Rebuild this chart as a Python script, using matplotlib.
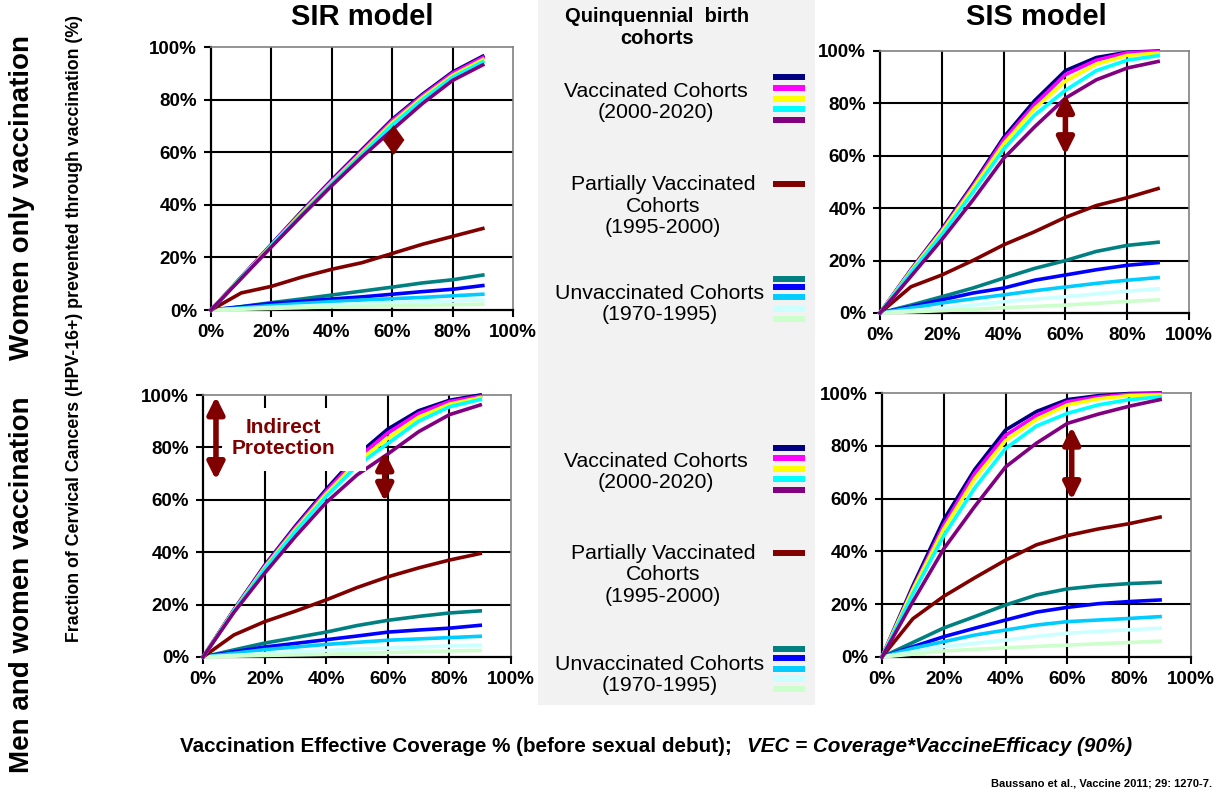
import matplotlib
matplotlib.use('Agg')
import matplotlib.pyplot as plt
from matplotlib import font_manager
from matplotlib.lines import Line2D
from matplotlib.patches import Rectangle

coverage = [0, 10, 20, 30, 40, 50, 60, 70, 80, 90]
ticks = [0, 20, 40, 60, 80, 100]
tick_labels = ['0%', '20%', '40%', '60%', '80%', '100%']

vacc_colors = ['#000080', '#ff00ff', '#ffff00', '#00ffff', '#800080']
partial_color = '#800000'
unvacc_colors = ['#008080', '#0000ff', '#00ccff', '#ccffff', '#ccffcc']

# SIR model, women only vaccination
sir_w_vacc = [
    [0, 12.5, 25.0, 37.5, 49.5, 61.0, 72.5, 82.0, 90.5, 96.5],
    [0, 12.4, 24.8, 37.2, 49.1, 60.5, 72.0, 81.5, 90.0, 96.0],
    [0, 12.3, 24.6, 36.8, 48.6, 59.9, 71.2, 80.8, 89.2, 95.2],
    [0, 12.2, 24.4, 36.4, 48.1, 59.3, 70.4, 80.0, 88.5, 94.4],
    [0, 12.0, 24.0, 35.8, 47.3, 58.2, 68.5, 78.5, 87.3, 93.2]]
sir_w_partial = [0, 6.5, 9.0, 12.5, 15.5, 18.0, 21.5, 25.0, 28.0, 31.0]
sir_w_unvacc = [
    [0, 1.3, 2.8, 4.2, 5.7, 7.2, 8.7, 10.3, 11.5, 13.3],
    [0, 1.2, 2.5, 3.3, 4.2, 5.0, 6.0, 7.0, 7.9, 9.3],
    [0, 0.8, 1.7, 2.5, 3.2, 3.8, 4.3, 4.8, 5.4, 6.0],
    [0, 0.5, 1.0, 1.5, 2.0, 2.4, 2.8, 3.1, 3.5, 3.8],
    [0, 0.3, 0.6, 0.9, 1.2, 1.4, 1.6, 1.8, 2.0, 2.2]]

# SIS model, women only vaccination
sis_w_vacc = [
    [0, 16.5, 32.0, 49.0, 67.0, 81.0, 92.5, 97.5, 99.5, 100],
    [0, 16.3, 31.5, 48.3, 66.0, 79.5, 91.0, 96.5, 99.3, 99.8],
    [0, 16.0, 31.0, 47.5, 64.5, 78.0, 88.5, 95.0, 98.3, 99.2],
    [0, 15.5, 30.0, 46.0, 62.5, 75.5, 85.0, 92.5, 96.5, 98.2],
    [0, 14.0, 28.0, 43.0, 59.0, 71.0, 82.0, 89.0, 93.5, 96.0]]
sis_w_partial = [0, 10.0, 14.5, 20.0, 26.0, 31.0, 36.5, 41.0, 44.0, 47.5]
sis_w_unvacc = [
    [0, 3.0, 6.2, 9.5, 13.3, 17.0, 20.0, 23.5, 25.8, 27.0],
    [0, 2.4, 5.0, 7.6, 9.5, 12.5, 14.5, 16.5, 18.2, 19.2],
    [0, 1.9, 3.8, 5.4, 6.9, 8.5, 9.9, 11.3, 12.5, 13.5],
    [0, 0.9, 1.8, 3.0, 4.3, 5.3, 6.2, 7.3, 8.3, 9.2],
    [0, 0.4, 0.9, 1.4, 2.0, 2.5, 3.0, 3.7, 4.4, 5.0]]

# SIR model, men and women vaccination
sir_mw_vacc = [
    [0, 18.0, 35.0, 50.0, 64.0, 77.0, 87.0, 94.0, 98.0, 100],
    [0, 17.8, 34.6, 49.4, 63.2, 75.8, 85.5, 93.0, 97.5, 99.5],
    [0, 17.6, 34.1, 48.7, 62.3, 74.4, 83.5, 91.5, 96.5, 99.0],
    [0, 17.4, 33.6, 48.0, 61.3, 73.0, 81.5, 90.0, 95.5, 98.3],
    [0, 17.0, 32.0, 46.0, 59.0, 69.5, 77.5, 86.0, 92.5, 96.2]]
sir_mw_partial = [0, 8.4, 13.5, 17.5, 21.8, 26.5, 30.6, 34.0, 37.0, 39.5]
sir_mw_unvacc = [
    [0, 2.7, 5.3, 7.4, 9.5, 12.0, 14.0, 15.5, 16.8, 17.6],
    [0, 2.0, 3.8, 5.2, 6.6, 8.0, 9.5, 10.3, 11.0, 12.1],
    [0, 1.4, 2.8, 3.8, 4.8, 5.6, 6.4, 6.9, 7.4, 7.9],
    [0, 0.6, 1.3, 1.9, 2.5, 3.0, 3.4, 3.8, 4.2, 4.5],
    [0, 0.3, 0.6, 0.8, 1.0, 1.4, 1.7, 2.0, 2.3, 2.5]]

# SIS model, men and women vaccination
sis_mw_vacc = [
    [0, 27.0, 52.0, 71.0, 86.0, 93.0, 97.5, 99.0, 99.8, 100],
    [0, 26.0, 50.0, 69.5, 84.0, 91.5, 96.7, 98.5, 99.5, 99.7],
    [0, 25.5, 48.5, 67.5, 82.0, 90.0, 95.5, 97.8, 99.0, 99.3],
    [0, 24.0, 46.0, 64.0, 79.0, 87.5, 92.3, 95.5, 97.5, 98.5],
    [0, 21.0, 41.0, 57.0, 72.0, 81.0, 88.5, 92.0, 95.0, 97.5]]
sis_mw_partial = [0, 14.5, 23.0, 30.0, 36.7, 42.5, 46.0, 48.5, 50.5, 53.0]
sis_mw_unvacc = [
    [0, 5.5, 11.0, 15.3, 19.7, 23.5, 25.8, 27.0, 27.8, 28.3],
    [0, 3.9, 7.7, 10.9, 14.0, 17.0, 18.8, 20.2, 21.0, 21.6],
    [0, 3.3, 5.8, 8.3, 10.2, 12.1, 13.4, 14.0, 14.6, 15.3],
    [0, 1.9, 3.9, 5.2, 6.4, 7.8, 9.0, 9.7, 10.3, 10.9],
    [0, 1.1, 2.3, 2.9, 3.5, 4.0, 4.5, 5.0, 5.5, 6.0]]

DARK_RED = '#800000'
W, H = 1232, 798

installed = {f.name for f in font_manager.fontManager.ttflist}
plt.rcParams['font.family'] = ['Liberation Sans', 'DejaVu Sans']
if 'Liberation Sans Narrow' in installed:
    narrow = dict(family=['Liberation Sans Narrow', 'Liberation Sans'], size=15)
else:
    narrow = dict(family=['Liberation Sans', 'DejaVu Sans'], size=12.8)


def px(x, y):
    # pixel position (from top-left) to figure fraction
    return x / W, 1 - y / H


def double_arrow(ax, x, y0, y1, head=0.5, width=0.25, lw=4):
    style = '<|-|>,head_length=%s,head_width=%s' % (head, width)
    ax.annotate('', xy=(x, y0), xytext=(x, y1), zorder=6,
                arrowprops=dict(arrowstyle=style, color=DARK_RED, lw=lw,
                                mutation_scale=20, shrinkA=0, shrinkB=0))


def draw_panel(rect, vacc, partial, unvacc):
    ax = fig.add_axes(rect)
    for vals, c in zip(unvacc, unvacc_colors):
        ax.plot(coverage, vals, color=c, lw=2.6, clip_on=False, zorder=3)
    ax.plot(coverage, partial, color=partial_color, lw=2.6, clip_on=False, zorder=3)
    for vals, c in zip(vacc, vacc_colors):
        ax.plot(coverage, vals, color=c, lw=2.6, clip_on=False, zorder=3)

    ax.set_xlim(0, 100)
    ax.set_ylim(0, 100)
    ax.set_xticks(ticks)
    ax.set_yticks(ticks)
    ax.set_xticklabels(tick_labels, fontweight='bold', fontsize=13.5)
    ax.set_yticklabels(tick_labels, fontweight='bold', fontsize=13.5)
    ax.tick_params(direction='out', length=5, width=1.5, pad=5)

    ax.grid(color='black', lw=1.5)
    ax.set_axisbelow(True)
    for gl in ax.get_xgridlines()[::len(ticks) - 1] + ax.get_ygridlines()[::len(ticks) - 1]:
        gl.set_visible(False)
    for side in ['left', 'bottom']:
        ax.spines[side].set_linewidth(1.6)
    for side in ['top', 'right']:
        ax.spines[side].set_color('#808080')
        ax.spines[side].set_linewidth(1.2)
    return ax


fig = plt.figure(figsize=(W / 100, H / 100), dpi=100)

# shaded legend column
fig.patches.append(Rectangle((538 / W, 1 - 705 / H), (815 - 538) / W, 705 / H,
                             transform=fig.transFigure, facecolor='#f2f2f2',
                             edgecolor='none', zorder=0))

ax_tl = draw_panel([0.1713, 0.6115, 0.2451, 0.3296], sir_w_vacc, sir_w_partial, sir_w_unvacc)
ax_tr = draw_panel([0.7143, 0.6078, 0.2508, 0.3283], sis_w_vacc, sis_w_partial, sis_w_unvacc)
ax_bl = draw_panel([0.1648, 0.1767, 0.2500, 0.3283], sir_mw_vacc, sir_mw_partial, sir_mw_unvacc)
ax_br = draw_panel([0.7159, 0.1767, 0.2508, 0.3308], sis_mw_vacc, sis_mw_partial, sis_mw_unvacc)

# herd-immunity gaps between vaccinated cohorts
double_arrow(ax_tl, 60.5, 59, 70.3, head=0.5, width=0.36, lw=0.8)
double_arrow(ax_tr, 60, 60.3, 83.5)
double_arrow(ax_bl, 59, 59.3, 78.4)
double_arrow(ax_br, 61.4, 59.5, 87.2)
double_arrow(ax_bl, 4.2, 67.6, 99.4)
ax_bl.add_patch(Rectangle((6, 71), 47, 24, facecolor='white', edgecolor='none', zorder=5))
ax_bl.text(26, 83.6, 'Indirect\nProtection', color=DARK_RED, fontsize=15,
           fontweight='bold', ha='center', va='center', linespacing=1.1, zorder=6)

fig.text(*px(362, 17), 'SIR model', fontsize=21, fontweight='bold', ha='center', va='center')
fig.text(*px(1036, 17), 'SIS model', fontsize=21, fontweight='bold', ha='center', va='center')
fig.text(*px(657, 28), 'Quinquennial  birth\ncohorts', fontsize=14.5, fontweight='bold',
         ha='center', va='center', linespacing=1.2)

fig.text(*px(22, 197), 'Women only vaccination', fontsize=20, fontweight='bold',
         rotation=90, ha='center', va='center')
fig.text(*px(22, 585), 'Men and women vaccination', fontsize=20, fontweight='bold',
         rotation=90, ha='center', va='center')
fig.text(*px(75, 328), 'Fraction of Cervical Cancers (HPV-16+) prevented through vaccination (%)',
         fontweight='bold', rotation=90, ha='center', va='center', **narrow)

fig.text(*px(737, 747), 'Vaccination Effective Coverage % (before sexual debut); ',
         fontsize=14.9, fontweight='bold', ha='right', va='center')
fig.text(*px(747, 747), 'VEC = Coverage*VaccineEfficacy (90%)',
         fontsize=14.9, fontweight='bold', style='italic', ha='left', va='center')
fig.text(*px(1212, 783), 'Baussano et al., Vaccine 2011; 29: 1270-7.',
         fontsize=8, fontweight='bold', ha='right', va='center')

# legend column: text blocks and colour swatches
legend_blocks = [
    (656, 102, 'Vaccinated Cohorts\n(2000-2020)', vacc_colors, [77, 88, 98.7, 109, 119.7]),
    (663, 206, 'Partially Vaccinated\nCohorts\n(1995-2000)', [partial_color], [183.7]),
    (660, 304, 'Unvaccinated Cohorts\n(1970-1995)', unvacc_colors, [279, 287, 297, 309, 319]),
    (656, 472, 'Vaccinated Cohorts\n(2000-2020)', vacc_colors, [447.7, 457.7, 468.7, 479.3, 490]),
    (663, 575, 'Partially Vaccinated\nCohorts\n(1995-2000)', [partial_color], [553.3]),
    (660, 675, 'Unvaccinated Cohorts\n(1970-1995)', unvacc_colors, [649.3, 657.7, 668.7, 678.7, 689.3]),
]
for cx, cy, label, colors, ys in legend_blocks:
    fig.text(*px(cx, cy), label, fontsize=15.3, ha='center', va='center', linespacing=1.15)
    for c, y in zip(colors, ys):
        fig.add_artist(Line2D([773 / W, 805 / W], [1 - y / H] * 2, color=c, lw=4.3,
                              solid_capstyle='butt', transform=fig.transFigure))

fig.savefig('out.png', dpi=100)
